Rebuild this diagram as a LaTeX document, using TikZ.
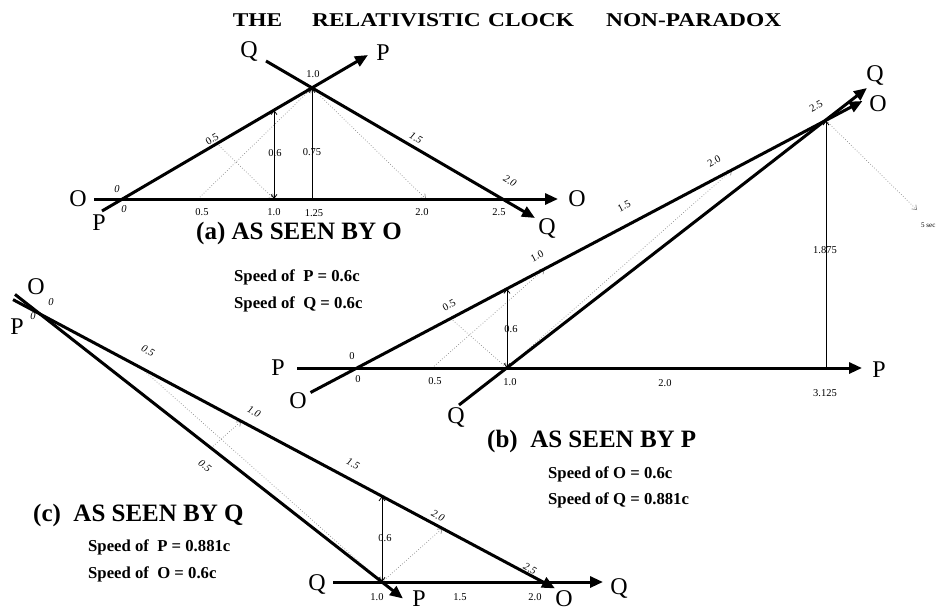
\documentclass[tikz,border=0pt]{standalone}
\usepackage{fontspec}
\setmainfont{Liberation Serif}
\usepackage{graphicx}
\usetikzlibrary{arrows.meta}
\tikzstyle{world}=[line width=3pt,-{Triangle[length=13pt,width=11pt]}]
\tikzstyle{light}=[dotted,draw=black!45,line width=0.7pt,-{Straight Barb[length=4pt,width=6pt]}]
\tikzstyle{twoway}=[line width=0.8pt,{Straight Barb[length=4pt,width=6pt]}-{Straight Barb[length=4pt,width=6pt]}]
\tikzstyle{upline}=[line width=0.8pt,-{Straight Barb[length=4pt,width=6pt]}]
\tikzstyle{letter}=[font=\fontsize{24}{24}\selectfont,inner sep=0pt]
\tikzstyle{num}=[font=\fontsize{10.5}{11}\selectfont,inner sep=0pt]
\tikzstyle{numit}=[font=\fontsize{10.5}{11}\selectfont\itshape,inner sep=0pt]
\tikzstyle{head}=[font=\fontsize{25}{25}\selectfont\bfseries,inner sep=0pt,anchor=west]
\tikzstyle{speed}=[font=\fontsize{16.7}{17}\selectfont\bfseries,inner sep=0pt,anchor=west]

\begin{document}
\begin{tikzpicture}[x=1pt,y=-1pt]
  \path[use as bounding box,fill=white] (0,0) rectangle (941,613);
  \node[inner sep=0pt] (title) at (507,20) {\scalebox{1.2}[1]{\bfseries\fontsize{19.5}{19.5}\selectfont THE\hspace{1.28em}RELATIVISTIC\hspace{0.32em}CLOCK\hspace{1.37em}NON-PARADOX}};

  % (a) as seen by O
  \coordinate (oa1) at (94,199);
  \coordinate (oa2) at (558,199);
  \coordinate (a05) at (198,199);
  \coordinate (a10) at (274,199);
  \coordinate (a125) at (312,199);
  \coordinate (a20) at (426,199);
  \coordinate (pa1) at (102,211);
  \coordinate (pa2) at (368,55);
  \coordinate (pa05) at (217,143.5);
  \coordinate (pa06) at (274,110);
  \coordinate (pqa) at (312,88);
  \coordinate (qa1) at (266,61);
  \coordinate (qa2) at (535,218);
  \draw[light] (a05) -- (pqa);
  \draw[light] (pa05) -- (a10);
  \draw[light,shorten <=12pt] (pqa) -- (a20);
  \node[num] (ta06) at (275,153) {0.6};
  \node[num] (ta075) at (312,152) {0.75};
  \draw[twoway] (a10) -- (pa06);
  \draw[upline] (a125) -- (pqa);
  \draw[world] (oa1) -- (oa2);
  \draw[world] (pa1) -- (pa2);
  \draw[world] (qa1) -- (qa2);
  \node[letter] (lOa1) at (78,199) {O};
  \node[letter] (lOa2) at (577,199) {O};
  \node[letter] (lPa1) at (99,223) {P};
  \node[letter] (lQa1) at (249,51) {Q};
  \node[letter] (lPa2) at (383,53) {P};
  \node[letter] (lQa2) at (547,228) {Q};
  \node[numit] (ta0) at (117,189) {0};
  \node[numit] (ta0b) at (124,209) {0};
  \node[num] (ta05) at (202,212) {0.5};
  \node[num] (ta10) at (274,212) {1.0};
  \node[num] (ta125) at (314,213) {1.25};
  \node[num] (ta20) at (422,212) {2.0};
  \node[num] (ta25) at (499,212) {2.5};
  \node[num] (ta10top) at (313,74) {1.0};
  \node[num,rotate=30] (tpa05) at (212,139) {0.5};
  \node[numit,rotate=-30] (tqa15) at (416,138) {1.5};
  \node[numit,rotate=-30] (tqa20) at (510,181) {2.0};
  \node[head] (hA) at (196,233) {(a) AS SEEN BY O};
  \node[speed] (sA1) at (234,277) {Speed of\ \ P = 0.6c};
  \node[speed] (sA2) at (234,304) {Speed of\ \ Q = 0.6c};

  % (b) as seen by P
  \coordinate (pb1) at (297,368);
  \coordinate (pb2) at (862,368);
  \coordinate (b05) at (432,368);
  \coordinate (b10) at (507,368);
  \coordinate (b3125) at (826,368);
  \coordinate (ob1) at (310.5,392.5);
  \coordinate (obtop) at (826,120.5);
  \coordinate (ob2) at (862.5,101);
  \coordinate (ob05) at (450.75,318.5);
  \coordinate (ob06) at (507,288.8);
  \coordinate (ob10) at (544.5,269);
  \coordinate (ob20) at (732,170);
  \coordinate (qb1) at (459,405);
  \coordinate (qb2) at (867,88);
  \coordinate (sec) at (917,210);
  \draw[light] (b05) -- (ob10);
  \draw[light] (ob05) -- (b10);
  \draw[light] (b10) -- (ob20);
  \draw[light] (obtop) -- (sec);
  \node[num] (tb06) at (511,329) {0.6};
  \node[num] (tb1875) at (825,250) {1.875};
  \draw[twoway] (b10) -- (ob06);
  \draw[upline] (b3125) -- (obtop);
  \draw[world] (pb1) -- (pb2);
  \draw[world] (ob1) -- (ob2);
  \draw[world] (qb1) -- (qb2);
  \node[letter] (lPb1) at (278,368) {P};
  \node[letter] (lOb1) at (298,401) {O};
  \node[letter] (lQb1) at (456,417) {Q};
  \node[letter] (lPb2) at (879,370) {P};
  \node[letter] (lQb2) at (875,75) {Q};
  \node[letter] (lOb2) at (878,104) {O};
  \node[num] (tb0) at (352,356) {0};
  \node[num] (tb0b) at (358,379) {0};
  \node[num] (tb05) at (435,381) {0.5};
  \node[num] (tb10) at (510,382) {1.0};
  \node[num] (tb20) at (665,383) {2.0};
  \node[num] (tb3125) at (825,393) {3.125};
  \node[num,rotate=28] (tob05) at (449,305) {0.5};
  \node[num,rotate=28] (tob10) at (537,256) {1.0};
  \node[num,rotate=28] (tob15) at (624,206) {1.5};
  \node[num,rotate=28] (tob20) at (714,161) {2.0};
  \node[num,rotate=28] (tob25) at (816,106) {2.5};
  \node[font=\fontsize{7}{7}\selectfont,inner sep=0pt,anchor=west] (tsec) at (921,225) {5 sec};
  \node[head] (hB) at (487,441) {(b)\ \ AS SEEN BY P};
  \node[speed] (sB1) at (548,474) {Speed of O = 0.6c};
  \node[speed] (sB2) at (548,500) {Speed of Q = 0.881c};

  % (c) as seen by Q
  \coordinate (qc1) at (333,582);
  \coordinate (qc2) at (603,582);
  \coordinate (c10) at (382,582);
  \coordinate (oc1) at (13,299.6);
  \coordinate (oc2) at (555,588.4);
  \coordinate (pc1) at (15,294.4);
  \coordinate (pc2) at (403,598.5);
  \coordinate (oc05) at (140.6,367.6);
  \coordinate (oc10) at (241.2,421.2);
  \coordinate (oc20) at (442.4,528.4);
  \coordinate (oc06) at (382,496.2);
  \coordinate (pc05) at (211,448);
  \draw[light] (oc05) -- (c10);
  \draw[light] (pc05) -- (oc10);
  \draw[light] (c10) -- (oc20);
  \node[num] (tc06) at (385,538) {0.6};
  \draw[twoway] (c10) -- (oc06);
  \draw[world] (qc1) -- (qc2);
  \draw[world] (oc1) -- (oc2);
  \draw[world] (pc1) -- (pc2);
  \node[letter] (lOc) at (36,287) {O};
  \node[numit] (tOc0) at (51,302) {0};
  \node[letter] (lPc) at (17,327) {P};
  \node[numit] (tPc0) at (33,316) {0};
  \node[letter] (lQc1) at (317,584) {Q};
  \node[letter] (lQc2) at (619,588) {Q};
  \node[letter] (lPc2) at (419,599) {P};
  \node[letter] (lOc2) at (564,599) {O};
  \node[numit,rotate=-28] (toc05) at (148,351) {0.5};
  \node[numit,rotate=-28] (toc10) at (254,412) {1.0};
  \node[numit,rotate=-28] (toc15) at (353,464) {1.5};
  \node[numit,rotate=-28] (toc20) at (438,516) {2.0};
  \node[numit,rotate=-28] (toc25) at (530,569) {2.5};
  \node[numit,rotate=-38] (tpc05) at (205,466) {0.5};
  \node[num] (tc10) at (377,597) {1.0};
  \node[num] (tc15) at (460,597) {1.5};
  \node[num] (tc20) at (535,597) {2.0};
  \node[head] (hC) at (33,515) {(c)\ \ AS SEEN BY Q};
  \node[speed] (sC1) at (88,547) {Speed of\ \ P = 0.881c};
  \node[speed] (sC2) at (88,574) {Speed of\ \ O = 0.6c};
\end{tikzpicture}
\end{document}
